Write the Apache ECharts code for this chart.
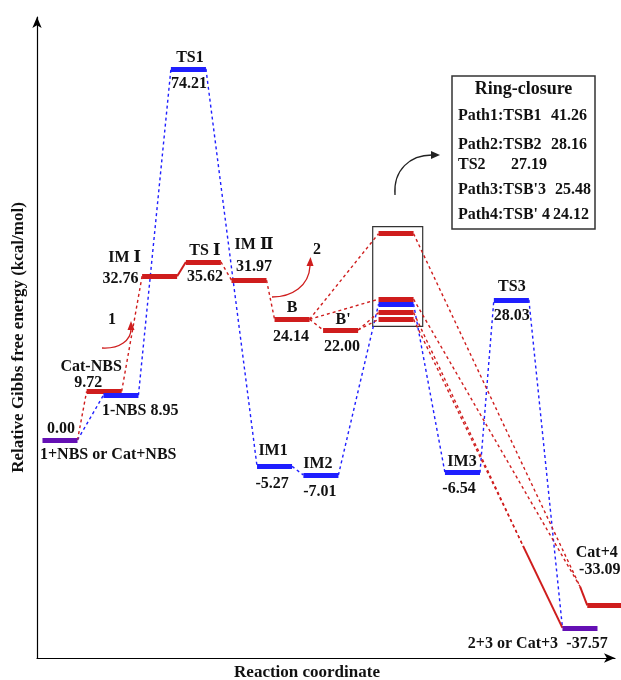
<!DOCTYPE html>
<html><head><meta charset="utf-8">
<script src="https://cdn.jsdelivr.net/npm/echarts@6/dist/echarts.min.js"></script>
<style>html,body{margin:0;padding:0;background:#fff}#c{width:621px;height:680px}</style>
</head><body><div id="c"></div>
<script>
// ---------------- data ----------------
const levelIds = ['R','CatNBS','NBS1','IMI','TS1','TSI','IMII','IM1','B','IM2','Bp','TSB1','TSB2','TS2','TSBp3','TSBp4','IM3','TS3','P','Cat4'];
const levelNames = ['1+NBS or Cat+NBS','Cat-NBS','1-NBS','IM Ⅰ','TS1','TS Ⅰ','IM Ⅱ','IM1','B','IM2',"B'",'TSB1','TSB2','TS2',"TSB'3","TSB' 4",'IM3','TS3','2+3 or Cat+3','Cat+4'];
const energies = [0.00, 9.72, 8.95, 32.76, 74.21, 35.62, 31.97, -5.27, 24.14, -7.01, 22.00, 41.26, 28.16, 27.19, 25.48, 24.12, -6.54, 28.03, -37.57, -33.09];
const reactionCoord = [0.63, 1.84, 2.30, 3.36, 4.15, 4.56, 5.81, 6.51, 6.99, 7.78, 8.32, 9.84, 9.84, 9.84, 9.84, 9.84, 11.66, 13.00, 14.88, 15.56];
// bend points where the ring-closure paths turn solid
const kinkIds = ['K1','K2'];
const kinkCoord = [14.88, 13.32];
const kinkEnergy = [-29.29, -21.17];
// connections
const blueLinks = [['R','NBS1'],['NBS1','TS1'],['TS1','IM1'],['IM1','IM2'],['IM2','TS2'],['TS2','IM3'],['IM3','TS3'],['TS3','P']];
const redLinks = [['R','CatNBS'],['CatNBS','IMI'],['TSI','IMII'],['IMII','B'],['B','Bp'],['B','TSB1'],['B','TSB2'],['Bp','TSBp3'],['Bp','TSBp4'],['TSB1','K1'],['TSB2','K1'],['TSBp3','K2'],['TSBp4','K2']];
const redSolidLinks = [['IMI','TSI'],['K2','P'],['K1','Cat4']];
// ring-closure box
const ringClosureIds = ['TSB1','TSB2','TS2','TSBp3','TSBp4'];
const ringClosureLabels = ['Path1:TSB1','Path2:TSB2','TS2',"Path3:TSB'3","Path4:TSB' 4"];

// ---------------- styles / layout ----------------
const BLUE = '#1f1fff', RED = '#cf1d1d', PURPLE = '#6410b4', INK = '#111';
const FONT = "'Liberation Serif','DejaVu Serif','Times New Roman',serif";
const HW = 0.48; // half bar width in reaction-coordinate units
const levelColor = {R:PURPLE,CatNBS:RED,NBS1:BLUE,IMI:RED,TS1:BLUE,TSI:RED,IMII:RED,IM1:BLUE,B:RED,IM2:BLUE,Bp:RED,
  TSB1:RED,TSB2:RED,TS2:BLUE,TSBp3:RED,TSBp4:RED,IM3:BLUE,TS3:BLUE,P:PURPLE,Cat4:RED};
const nameLayout = {
  R:{dx:-20,dy:15,align:'left'}, CatNBS:{dx:-13,dy:-25}, NBS1:{dx:-19,dy:16,align:'left',withValue:true},
  IMI:{dx:-35,dy:-18}, TS1:{dx:1.5,dy:-11}, TSI:{dx:1.5,dy:-11}, IMII:{dx:5,dy:-35},
  IM1:{dx:-1.5,dy:-15}, B:{dx:0,dy:-11}, IM2:{dx:-3,dy:-11}, Bp:{dx:2.5,dy:-10},
  IM3:{dx:-0.5,dy:-11}, TS3:{dx:0.5,dy:-13}, P:{dx:-67,dy:16}, Cat4:{dx:-8,dy:-53}
};
const valueLayout = {
  R:{dx:1,dy:-11}, CatNBS:{dx:-16,dy:-9}, IMI:{dx:-39,dy:3}, TS1:{dx:0.5,dy:15}, TSI:{dx:1.5,dy:15},
  IMII:{dx:5,dy:-13}, IM1:{dx:-2.5,dy:18}, B:{dx:-1,dy:18}, IM2:{dx:-1,dy:17}, Bp:{dx:1.5,dy:17},
  IM3:{dx:-3.5,dy:16}, TS3:{dx:0.5,dy:16}, P:{dx:7,dy:16}, Cat4:{dx:-5,dy:-36}
};

// ---------------- build ----------------
const idx = id => levelIds.indexOf(id);
function pt(id, side) {
  const k = kinkIds.indexOf(id);
  if (k >= 0) return [kinkCoord[k], kinkEnergy[k]];
  const i = idx(id);
  return [reactionCoord[i] + side * HW, energies[i]];
}
const linkData = links => links.map(([a, b]) => ({coords: [pt(a, 1), pt(b, -1)]}));
const barData = levelIds.map((id, i) => ({
  coords: [[reactionCoord[i] - HW, energies[i]], [reactionCoord[i] + HW, energies[i]]],
  lineStyle: {color: levelColor[id]}
}));
// box around ring-closure TS levels
const rcI = ringClosureIds.map(idx);
const rcX = rcI.map(i => reactionCoord[i]), rcE = rcI.map(i => energies[i]);
const boxArea = [[{coord:[Math.min(...rcX) - HW - 0.16, Math.max(...rcE) + 1.4]},
                  {coord:[Math.max(...rcX) + HW + 0.25, Math.min(...rcE) - 1.4]}]];

function txt(text, x, y, size, align) {
  return {type:'text', z:50, style:{text:text, x:x, y:y, font:'bold ' + size + 'px ' + FONT, fill:INK,
    textAlign:align || 'center', textVerticalAlign:'middle', align:align || 'center', verticalAlign:'middle'}};
}

const chart = echarts.init(document.getElementById('c'), null, {renderer:'canvas'});
chart.setOption({
  animation:false,
  backgroundColor:'#fff',
  grid:{left:37, right:6, top:17, bottom:22, containLabel:false, outerBoundsMode:'none'},
  xAxis:{type:'value', min:0, max:15.84, axisTick:{show:false}, axisLabel:{show:false}, splitLine:{show:false},
    axisLine:{show:true, onZero:false, symbol:['none','arrow'], symbolSize:[7,11], lineStyle:{color:'#000', width:1.2}}},
  yAxis:{type:'value', min:-43.6, max:84.6, axisTick:{show:false}, axisLabel:{show:false}, splitLine:{show:false},
    axisLine:{show:true, onZero:false, symbol:['none','arrow'], symbolSize:[7,11], lineStyle:{color:'#000', width:1.2}},
    name:'Relative Gibbs free energy (kcal/mol)', nameLocation:'middle', nameGap:10, nameRotate:90,
    nameTextStyle:{fontFamily:FONT, fontWeight:'bold', fontSize:17, color:INK}},
  series:[
    {type:'lines', coordinateSystem:'cartesian2d', silent:true, clip:false, z:2,
      lineStyle:{color:BLUE, width:1.4, type:[3,3], opacity:1}, data:linkData(blueLinks)},
    {type:'lines', coordinateSystem:'cartesian2d', silent:true, clip:false, z:2,
      lineStyle:{color:RED, width:1.4, type:[3,3], opacity:1}, data:linkData(redLinks)},
    {type:'lines', coordinateSystem:'cartesian2d', silent:true, clip:false, z:3,
      lineStyle:{color:RED, width:2, type:'solid', opacity:1}, data:linkData(redSolidLinks)},
    {type:'lines', coordinateSystem:'cartesian2d', silent:true, clip:false, z:4,
      lineStyle:{width:5, type:'solid', opacity:1, cap:'butt'}, data:barData},
    {type:'scatter', silent:true, symbolSize:0, data:[], z:1,
      markArea:{silent:true, label:{show:false}, itemStyle:{color:'rgba(0,0,0,0)', borderColor:'#333', borderWidth:1.2},
        data:boxArea}}
  ]
});

// level labels placed through the axes' own scales
const graphics = [];
levelIds.forEach((id, i) => {
  const p = chart.convertToPixel({gridIndex:0}, [reactionCoord[i], energies[i]]);
  const n = nameLayout[id];
  if (n) graphics.push(txt(n.withValue ? levelNames[i] + ' ' + energies[i].toFixed(2) : levelNames[i],
    p[0] + n.dx, p[1] + n.dy, 16, n.align));
  const v = valueLayout[id];
  if (v) graphics.push(txt(energies[i].toFixed(2), p[0] + v.dx, p[1] + v.dy, 16, v.align));
});

graphics.push(
  txt('Reaction coordinate', 307, 673, 17),
  // curved arrow "1"
  {type:'bezierCurve', shape:{x1:102,y1:348,cpx1:120,cpy1:349,cpx2:131,cpy2:340,x2:131,y2:329},
    style:{stroke:RED, lineWidth:1.3, fill:null}},
  {type:'polygon', shape:{points:[[131,321],[127.5,330],[134.5,330]]}, style:{fill:RED}},
  txt('1', 112, 320, 16),
  // curved arrow "2"
  {type:'bezierCurve', shape:{x1:272,y1:297,cpx1:292,cpy1:297,cpx2:309,cpy2:286,x2:310,y2:266},
    style:{stroke:RED, lineWidth:1.3, fill:null}},
  {type:'polygon', shape:{points:[[310.5,257],[306.5,266],[313.5,266]]}, style:{fill:RED}},
  txt('2', 317, 250, 16),
  // black arrow to legend
  {type:'bezierCurve', shape:{x1:395,y1:195,cpx1:393,cpy1:170,cpx2:410,cpy2:155,x2:432,y2:155},
    style:{stroke:'#222', lineWidth:1.3, fill:null}},
  {type:'polygon', shape:{points:[[440,155],[431,151],[431,159]]}, style:{fill:'#222'}},
  // legend box
  {type:'rect', shape:{x:452, y:76, width:143, height:153}, style:{fill:'#fff', stroke:'#333', lineWidth:1.5}},
  txt('Ring-closure', 523.5, 89, 18)
);
const legendRowY = [116, 145, 165, 190, 215];
const legendValX = [551, 551, 511, 555, 553];
ringClosureLabels.forEach((t, k) => {
  graphics.push(txt(t, 458, legendRowY[k], 16, 'left'));
  graphics.push(txt(energies[rcI[k]].toFixed(2), legendValX[k], legendRowY[k], 16, 'left'));
});
chart.setOption({graphic: graphics});
</script></body></html>
